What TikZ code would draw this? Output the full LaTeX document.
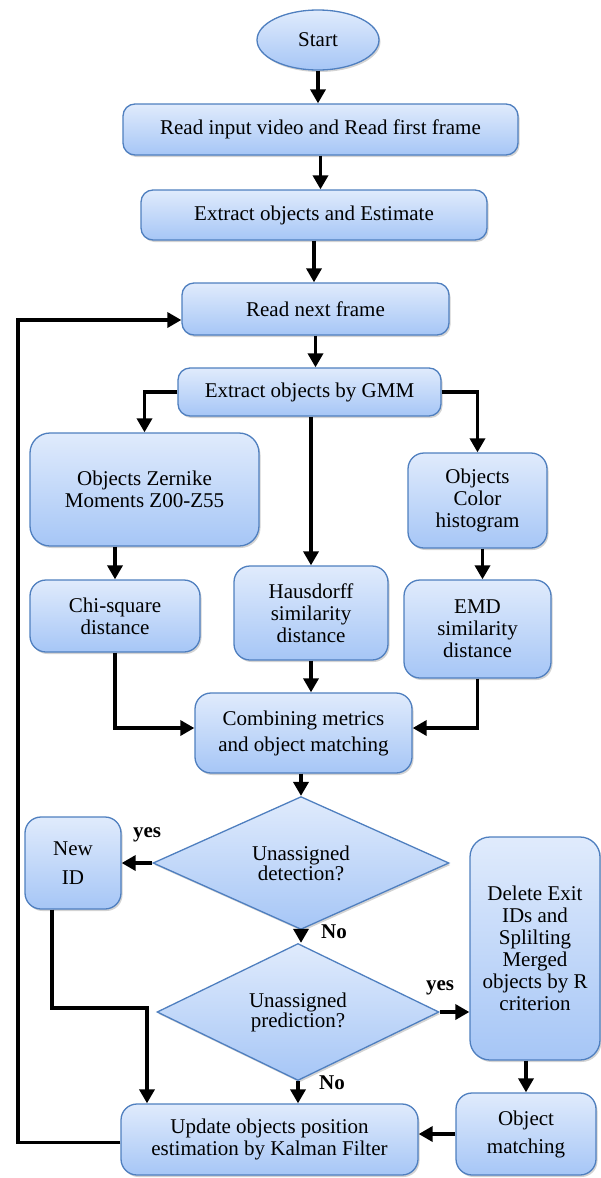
\documentclass[tikz,border=0pt]{standalone}
\usepackage{fontspec}
\setmainfont{Liberation Serif}
\usetikzlibrary{shapes.geometric,arrows.meta,shadows,calc}
\definecolor{bordc}{HTML}{4F7FBF}
\definecolor{topc}{HTML}{E0EBFC}
\definecolor{botc}{HTML}{A6C6F6}
\tikzset{
  boxst/.style={draw=bordc, line width=1.3pt, rounded corners=12pt, top color=topc, bottom color=botc,
    drop shadow={shadow xshift=1.5pt, shadow yshift=-2pt, opacity=0.35}, align=center,
    font=\fontsize{21}{22}\selectfont, inner sep=0pt},
  ellst/.style={boxst, ellipse, rounded corners=0pt},
  diast/.style={boxst, diamond, rounded corners=0pt},
  arr/.style={line width=3.4pt, -{Triangle[length=14pt,width=15pt]}},
  lbl/.style={font=\fontsize{21}{22}\selectfont\bfseries, inner sep=0pt}
}
\begin{document}
\begin{tikzpicture}[x=1pt,y=-1pt]
\useasboundingbox (0,0) rectangle (601,1178);
\node[ellst, minimum width=122pt, minimum height=60pt] (start) at (318,40) {Start};
\node[boxst, minimum width=395pt, minimum height=51pt] (b1) at (320.5,129.5) {Read input video and Read first frame};
\node[boxst, minimum width=346pt, minimum height=50pt] (b2) at (314,215) {Extract objects and Estimate};
\node[boxst, minimum width=267pt, minimum height=52pt] (b3) at (315.5,309) {Read next frame};
\node[boxst, minimum width=263pt, minimum height=48pt] (b4) at (309.5,392) {Extract objects by GMM};
\node[boxst, rounded corners=20pt, minimum width=229pt, minimum height=113pt] (zern) at (144.5,489.5) {Objects Zernike\\Moments Z00-Z55};
\node[boxst, rounded corners=16pt, minimum width=139pt, minimum height=95pt] (color) at (477.5,500.5) {Objects\\Color\\histogram};
\node[boxst, rounded corners=16pt, minimum width=154pt, minimum height=94pt] (haus) at (311,613) {Hausdorff\\similarity\\distance};
\node[boxst, rounded corners=16pt, minimum width=170pt, minimum height=72pt] (chi) at (115,616) {Chi-square\\distance};
\node[boxst, rounded corners=16pt, minimum width=147pt, minimum height=98pt] (emd) at (477.5,629) {EMD\\similarity\\distance};
\node[boxst, rounded corners=16pt, minimum width=217pt, minimum height=80pt, font=\fontsize{21}{26}\selectfont] (comb) at (303.5,733) {Combining metrics\\and object matching};
\node[diast, minimum width=296pt, minimum height=120pt] (d1) at (301,863) {Unassigned\\[-2pt]detection?};
\node[boxst, rounded corners=16pt, minimum width=96pt, minimum height=92pt, font=\fontsize{21}{29}\selectfont] (newid) at (73,863) {New\\ID};
\node[diast, minimum width=282pt, minimum height=120pt] (d2) at (298,1012) {Unassigned\\[-2pt]prediction?};
\node[boxst, rounded corners=20pt, minimum width=130pt, minimum height=223pt] (del) at (535,948.5) {Delete Exit\\IDs and\\Splilting\\Merged\\objects by R\\criterion};
\node[boxst, rounded corners=16pt, minimum width=140pt, minimum height=82pt, font=\fontsize{21}{28}\selectfont] (om) at (526,1134) {Object\\matching};
\node[boxst, rounded corners=16pt, minimum width=297pt, minimum height=71pt] (upd) at (269.5,1139.5) {Update objects position\\estimation by Kalman Filter};
\coordinate (j1) at (147,1008);
\coordinate (lp) at (18,0);
% connectors
\draw[arr] (start.south) -- (start.south |- b1.north);
\draw[arr] (b1.south) -- (b1.south |- b2.north);
\draw[arr] (b2.south) -- (b2.south |- b3.north);
\draw[arr] (b3.south) -- (b3.south |- b4.north);
\draw[arr] (b4.west) -| (zern.north);
\draw[arr] (b4.east) -| (color.north);
\draw[arr] (haus.north |- b4.south) -- (haus.north);
\draw[arr] (chi.north |- zern.south) -- (chi.north);
\draw[arr] ([xshift=5pt]emd.north |- color.south) -- ([xshift=5pt]emd.north);
\draw[arr] (chi.south) |- ([yshift=5pt]comb.west);
\draw[arr] (haus.south) -- (haus.south |- comb.north);
\draw[arr] (emd.south) |- ([yshift=5pt]comb.east);
\draw[arr] (d1.north |- comb.south) -- (d1.north);
\draw[arr] (d1.west) -- (newid.east);
\draw[arr] (d1.south) -- (d1.south |- d2.north);
\draw[arr] (d2.east) -- (del.west |- d2.east);
\draw[arr] (om.north |- del.south) -- (om.north);
\draw[arr] (om.west) -- (om.west -| upd.east);
\draw[arr] ([xshift=-21pt]newid.south) |- (j1) -- (j1 |- upd.north);
\draw[arr] (d2.south) -- (d2.south |- upd.north);
\draw[arr] ([yshift=-3pt]upd.west) -- ([yshift=-3pt]upd.west -| lp) |- ([yshift=-11pt]b3.west);
% labels
\node[lbl] (l1) at (147,835) {yes};
\node[lbl] (l2) at (334,932) {No};
\node[lbl] (l3) at (440,988) {yes};
\node[lbl] (l4) at (332,1083) {No};
\end{tikzpicture}
\end{document}
